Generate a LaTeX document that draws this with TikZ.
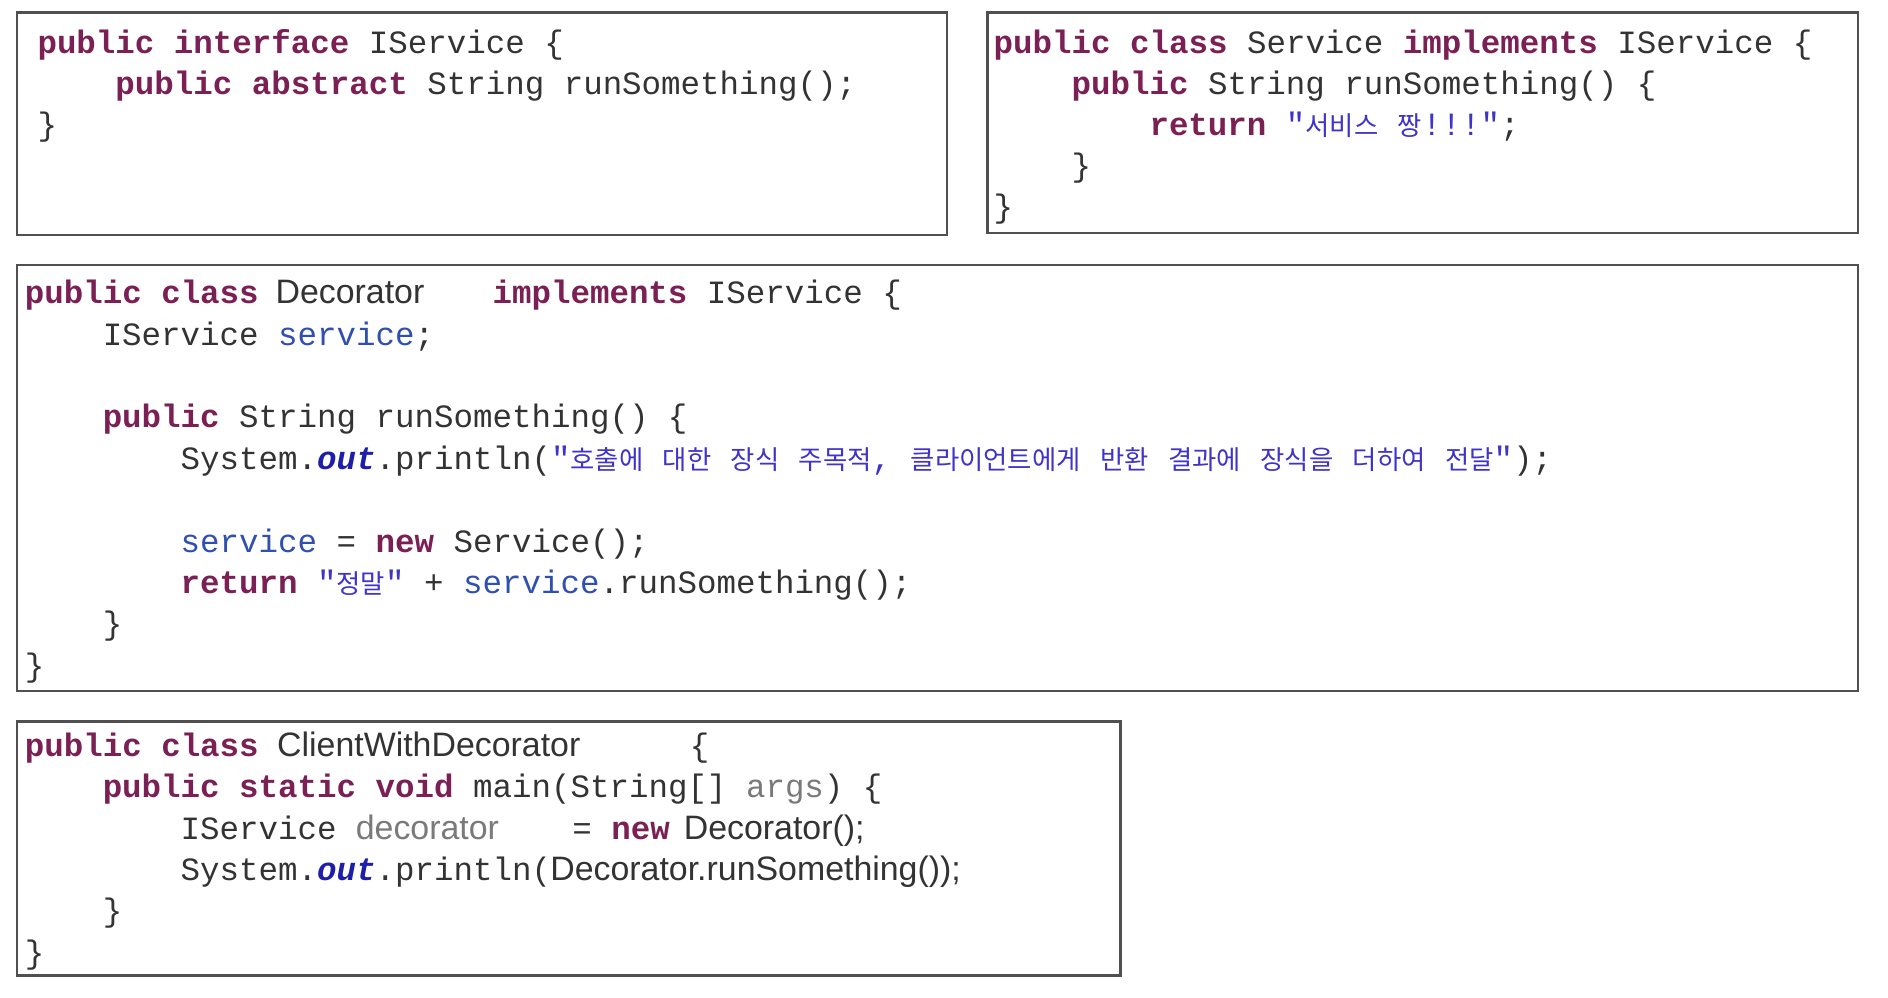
\documentclass[tikz,border=0pt]{standalone}
\usepackage{fontspec}
\setmonofont{Liberation Mono}
\setsansfont{Liberation Sans}
\newfontfamily\kofont{Noto Sans CJK KR}
\definecolor{kwc}{HTML}{7B2055}
\definecolor{txtc}{HTML}{333333}
\definecolor{strc}{HTML}{3F33C9}
\definecolor{fldc}{HTML}{3050B0}
\definecolor{outc}{HTML}{1E1EA8}
\definecolor{grc}{HTML}{7A7A7A}
\definecolor{boxc}{HTML}{505050}
\newcommand\kw[1]{{\bfseries\color{kwc}#1}}
\newcommand\stx[1]{{\color{strc}#1}}
\newcommand\ko[1]{{\kofont\fontsize{10.9pt}{12pt}\selectfont\color{strc}#1}}
\newcommand\fld[1]{{\color{fldc}#1}}
\newcommand\outk[1]{{\bfseries\itshape\color{outc}#1}}
\newcommand\gry[1]{{\color{grc}#1}}
\tikzset{
  codebox/.style={draw=boxc, line width=1pt},
  ln/.style={anchor=base west, inner sep=0pt, outer sep=0pt, text=txtc,
    font=\ttfamily\fontsize{13.42pt}{16pt}\selectfont},
  sn/.style={anchor=base west, inner sep=0pt, outer sep=0pt, text=txtc,
    font=\sffamily\fontsize{14pt}{16pt}\selectfont}
}
\begin{document}
\begin{tikzpicture}[x=0.5pt, y=-0.5pt]
\useasboundingbox (0,0) rectangle (1560,824.6);
\fill[white] (0,0) rectangle (1560,824.6);
% boxes
\draw[codebox] (14,10.5) rectangle (782.6,194);
\draw[codebox] (815.8,10.5) rectangle (1535,192.7);
\draw[codebox] (14,219) rectangle (1535,571);
\draw[codebox] (14,596) rectangle (926,806);
% box 1
\node[ln] (a1) at (31,44) {\kw{public} \kw{interface} IService \{};
\node[ln] (a2) at (95.4,78) {\kw{public} \kw{abstract} String runSomething();};
\node[ln] (a3) at (31,112) {\}};
% box 2
\node[ln] (s1) at (821,44) {\kw{public} \kw{class} Service \kw{implements} IService \{};
\node[ln] (s2) at (885.4,78) {\kw{public} String runSomething() \{};
\node[ln] (s3) at (949.8,112) {\kw{return} \stx{"}\ko{서비스} \ko{짱}\stx{!!!"};};
\node[ln] (s4) at (885.4,146) {\}};
\node[ln] (s5) at (821,180) {\}};
% box 3
\node[ln] (d1) at (20.5,251) {\kw{public} \kw{class}};
\node[sn] (d1b) at (227.7,251) {Decorator};
\node[ln] (d1c) at (407,251) {\kw{implements} IService \{};
\node[ln] (d2) at (84.9,285.2) {IService \fld{service};};
\node[ln] (d4) at (84.9,353.6) {\kw{public} String runSomething() \{};
\node[ln] (d5) at (149.3,387.8) {System.\outk{out}.println(\stx{"}\ko{호출에} \ko{대한} \ko{장식} \ko{주목적}\stx{,} \ko{클라이언트에게} \ko{반환} \ko{결과에} \ko{장식을} \ko{더하여} \ko{전달}\stx{"});};
\node[ln] (d7) at (149.3,456.2) {\fld{service} = \kw{new} Service();};
\node[ln] (d8) at (149.3,490.4) {\kw{return} \stx{"}\ko{정말}\stx{"} + \fld{service}.runSomething();};
\node[ln] (d9) at (84.9,524.6) {\}};
\node[ln] (d10) at (20.5,558.8) {\}};
% box 4
\node[ln] (c1) at (20.5,625) {\kw{public} \kw{class}};
\node[sn] (c1b) at (229,625) {ClientWithDecorator};
\node[ln] (c1c) at (570,625) {\{};
\node[ln] (c2) at (84.9,659.2) {\kw{public} \kw{static} \kw{void} main(String[] \gry{args}) \{};
\node[ln] (c3) at (149.3,693.4) {IService};
\node[sn, text=grc] (c3b) at (294,693.4) {decorator};
\node[ln] (c3c) at (473,693.4) {= \kw{new}};
\node[sn] (c3d) at (565,693.4) {Decorator();};
\node[ln] (c4) at (149.3,727.6) {System.\outk{out}.println(};
\node[sn] (c4b) at (454.7,727.6) {Decorator.runSomething());};
\node[ln] (c5) at (84.9,761.8) {\}};
\node[ln] (c6) at (20.5,796) {\}};
\end{tikzpicture}
\end{document}
